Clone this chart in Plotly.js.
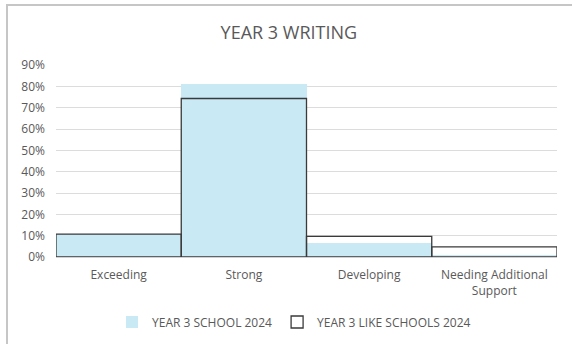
<!DOCTYPE html>
<html><head><meta charset="utf-8">
<script src="https://cdn.plot.ly/plotly-3.0.1.min.js"></script>
<style>
html,body{margin:0;padding:0;background:#fff;overflow:hidden;}
#chart{position:absolute;left:0;top:0;width:572px;height:344px;}
#frame{position:absolute;left:6px;top:4px;width:700px;height:500px;border-left:2px solid #c6c6c6;border-top:2px solid #c6c6c6;pointer-events:none;}
</style></head>
<body>
<div id="chart"></div>
<div id="frame"></div>
<script>
var categories = ["Exceeding", "Strong", "Developing", "Needing Additional<br>Support"];
var schoolName = "YEAR 3 SCHOOL 2024";
var likeName = "YEAR 3 LIKE SCHOOLS 2024";
var schoolValues = [11, 81, 6.6, 0.8];
var likeValues = [10.7, 74.3, 9.7, 4.7];
var yTicks = [0, 10, 20, 30, 40, 50, 60, 70, 80, 90];
var yTickLabels = ["0%", "10%", "20%", "30%", "40%", "50%", "60%", "70%", "80%", "90%"];

var font = "'Open Sans', 'Liberation Sans', Arial, sans-serif";
var traces = [
  {type: "bar", name: schoolName, x: categories, y: schoolValues,
   marker: {color: "#c9e9f4", line: {width: 0}}},
  {type: "bar", name: likeName, x: categories, y: likeValues,
   marker: {color: "rgba(0,0,0,0)", line: {color: "#3a3a3a", width: 1.3}}}
];
var layout = {
  width: 572, height: 344,
  margin: {l: 56, r: 15, t: 65, b: 87},
  paper_bgcolor: "#ffffff", plot_bgcolor: "#ffffff",
  barmode: "overlay", bargap: 0,
  title: {text: "YEAR 3 WRITING", x: 0.505, xanchor: "center", y: 0.905, yanchor: "middle",
          font: {family: font, size: 18, color: "#595959"}},
  font: {family: font, size: 12, color: "#595959"},
  xaxis: {showgrid: false, showline: false, ticks: "", zeroline: false, automargin: false,
          ticklabelstandoff: 9,
          tickfont: {size: 12, color: "#595959"}, fixedrange: true},
  yaxis: {range: [0, 90], tickvals: yTicks, ticktext: yTickLabels, showgrid: true, automargin: false,
          ticklabelstandoff: 10,
          gridcolor: "#dcdcdc", gridwidth: 1, zeroline: true, zerolinecolor: "#d0d0d0",
          showline: false, ticks: "", tickfont: {size: 12, color: "#595959"}, fixedrange: true},
  legend: {orientation: "h", xref: "container", x: 0.514, xanchor: "center",
           yref: "container", y: 1 - 322 / 344, yanchor: "middle",
           font: {size: 12, color: "#595959"}, traceorder: "normal", itemwidth: 30},
  showlegend: true
};
Plotly.newPlot("chart", traces, layout, {displayModeBar: false, staticPlot: true});
</script>
</body></html>
